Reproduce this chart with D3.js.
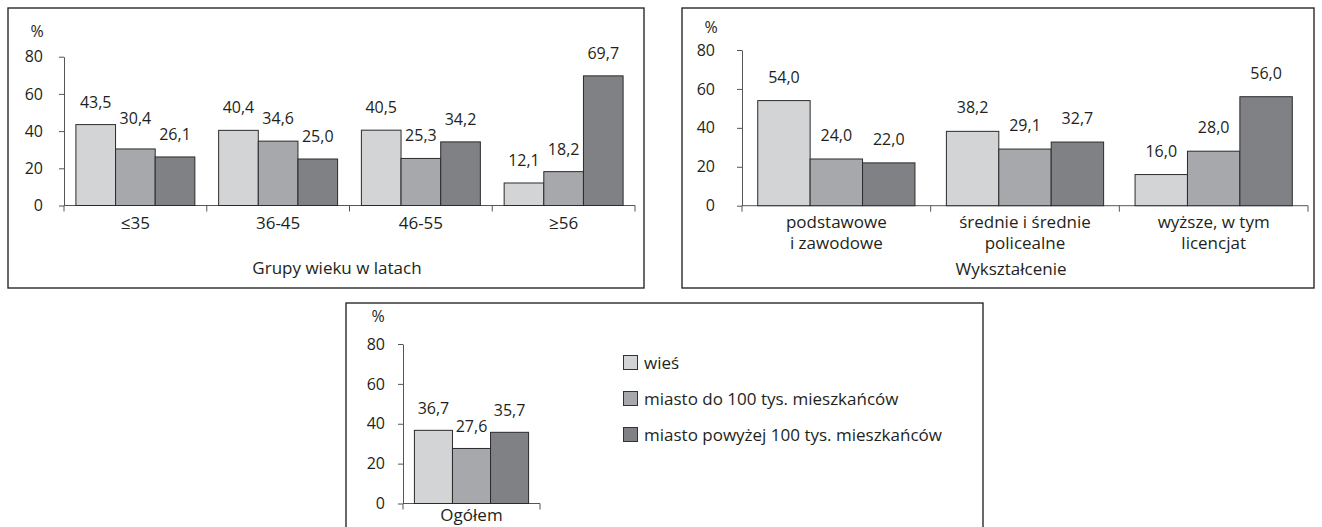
<!DOCTYPE html>
<html>
<head>
<meta charset="utf-8">
<script src="https://cdn.jsdelivr.net/npm/d3@7"></script>
<style>
  body { margin: 0; background: #fff; }
  svg text { font-family: "Open Sans", "Noto Sans", sans-serif; font-size: 17px; fill: #231f20; }
  svg text.num { font-size: 16px; }
</style>
</head>
<body>
<svg id="chart" width="1322" height="527"></svg>
<script>
// ---- data ----
const seriesNames = ["wieś", "miasto do 100 tys. mieszkańców", "miasto powyżej 100 tys. mieszkańców"];
const yTicks = [0, 20, 40, 60, 80];

const ageCategories = ["≤35", "36-45", "46-55", "≥56"];
const ageWies = [43.5, 40.4, 40.5, 12.1];
const ageMiastoDo = [30.4, 34.6, 25.3, 18.2];
const ageMiastoPow = [26.1, 25.0, 34.2, 69.7];

const eduCategories = [["podstawowe", "i zawodowe"], ["średnie i średnie", "policealne"], ["wyższe, w tym", "licencjat"]];
const eduWies = [54.0, 38.2, 16.0];
const eduMiastoDo = [24.0, 29.1, 28.0];
const eduMiastoPow = [22.0, 32.7, 56.0];

const totalCategories = ["Ogółem"];
const totalWies = [36.7];
const totalMiastoDo = [27.6];
const totalMiastoPow = [35.7];

// ---- styling ----
const fills = ["#d3d4d6", "#a7a8ab", "#808185"];
const barStroke = "#2b2b2b";
const fmt = v => d3.format(".1f")(v).replace(".", ",");

const svg = d3.select("#chart");

function panel(cfg) {
  const g = svg.append("g");
  // frame
  g.append("rect")
    .attr("x", cfg.box[0]).attr("y", cfg.box[1])
    .attr("width", cfg.box[2] - cfg.box[0]).attr("height", cfg.box[3] - cfg.box[1])
    .attr("fill", "none").attr("stroke", "#1a1a1a").attr("stroke-width", 1.3);

  const y = d3.scaleLinear().domain([0, 80]).range([cfg.y0, cfg.y80]);
  const keys = cfg.categories.map((c, i) => i);
  const x = d3.scaleBand().domain(keys).range([cfg.ax0, cfg.ax1]).padding(0);
  const xs = d3.scaleBand().domain([0, 1, 2]).range([0, x.bandwidth()]).paddingInner(0).paddingOuter(0.3);

  // y axis
  const yAxis = d3.axisLeft(y).tickValues(yTicks).tickSize(5).tickSizeOuter(0).tickPadding(cfg.tickPad);
  const ya = g.append("g").attr("transform", `translate(${cfg.ax0},0)`).call(yAxis);
  ya.select(".domain").attr("stroke", "#555");
  ya.selectAll(".tick line").attr("stroke", "#555");
  ya.selectAll(".tick text").attr("class", "num").attr("fill", "#231f20")
    .style("font-family", "'Open Sans', sans-serif");

  // x axis line with category boundary ticks
  g.append("line").attr("x1", cfg.ax0).attr("x2", cfg.ax1).attr("y1", cfg.y0).attr("y2", cfg.y0)
    .attr("stroke", "#555");
  const bounds = keys.map(k => x(k)).concat([x(keys[keys.length - 1]) + x.bandwidth()]);
  g.selectAll(".xtick").data(bounds).enter().append("line")
    .attr("x1", d => d).attr("x2", d => d).attr("y1", cfg.y0).attr("y2", cfg.y0 + 6)
    .attr("stroke", "#555");

  // bars with value labels
  cfg.series.forEach((vals, s) => {
    g.selectAll(".bar" + s).data(vals).enter().append("rect")
      .attr("x", (d, i) => x(i) + xs(s))
      .attr("y", d => y(d))
      .attr("width", xs.bandwidth())
      .attr("height", d => y(0) - y(d))
      .attr("fill", fills[s]).attr("stroke", barStroke).attr("stroke-width", 1);
    g.selectAll(".lab" + s).data(vals).enter().append("text")
      .attr("class", "num")
      .attr("x", (d, i) => x(i) + xs(s) + xs.bandwidth() / 2)
      .attr("y", (d, i) => y(d) - cfg.labelGap - ((cfg.lift && cfg.lift[i + "-" + s]) || 0))
      .attr("text-anchor", "middle")
      .text(d => fmt(d));
  });

  // category labels
  cfg.categories.forEach((c, i) => {
    const lines = Array.isArray(c) ? c : [c];
    lines.forEach((t, j) => {
      g.append("text").attr("x", x(i) + x.bandwidth() / 2)
        .attr("y", cfg.catY + j * cfg.catLine)
        .attr("text-anchor", "middle").text(t);
    });
  });

  // unit label
  g.append("text").attr("class", "num").attr("x", cfg.pct[0]).attr("y", cfg.pct[1])
    .attr("text-anchor", "middle").text("%");

  if (cfg.title) {
    g.append("text").attr("x", cfg.title[0]).attr("y", cfg.title[1]).attr("text-anchor", "middle").text(cfg.title[2]);
  }
  return g;
}

panel({
  box: [8, 8, 644, 288], ax0: 64, ax1: 635, y0: 205.5, y80: 56.7, tickPad: 16,
  categories: ageCategories, series: [ageWies, ageMiastoDo, ageMiastoPow],
  labelGap: 17, lift: { "0-1": 8 },
  catY: 229, catLine: 21, pct: [37, 37],
  title: [337, 274, "Grupy wieku w latach"]
});

panel({
  box: [682, 8, 1314, 288], ax0: 742, ax1: 1308, y0: 205.7, y80: 50, tickPad: 22,
  categories: eduCategories, series: [eduWies, eduMiastoDo, eduMiastoPow],
  labelGap: 18,
  catY: 228, catLine: 21, pct: [711, 33],
  title: [1011, 275, "Wykształcenie"]
});

panel({
  box: [346, 303, 983, 540], ax0: 403, ax1: 540, y0: 503.5, y80: 344, tickPad: 13,
  categories: totalCategories, series: [totalWies, totalMiastoDo, totalMiastoPow],
  labelGap: 16,
  catY: 521, catLine: 21, pct: [378, 322]
});

// legend
const legend = svg.append("g").attr("transform", "translate(623,355)");
const li = legend.selectAll("g").data(seriesNames).enter().append("g")
  .attr("transform", (d, i) => `translate(0,${i * 36})`);
li.append("rect").attr("x", 0.5).attr("y", 0.5).attr("width", 14).attr("height", 14)
  .attr("fill", (d, i) => fills[i]).attr("stroke", "#333").attr("stroke-width", 1);
li.append("text").attr("x", 21).attr("y", 14).text(d => d);
</script>
</body>
</html>
